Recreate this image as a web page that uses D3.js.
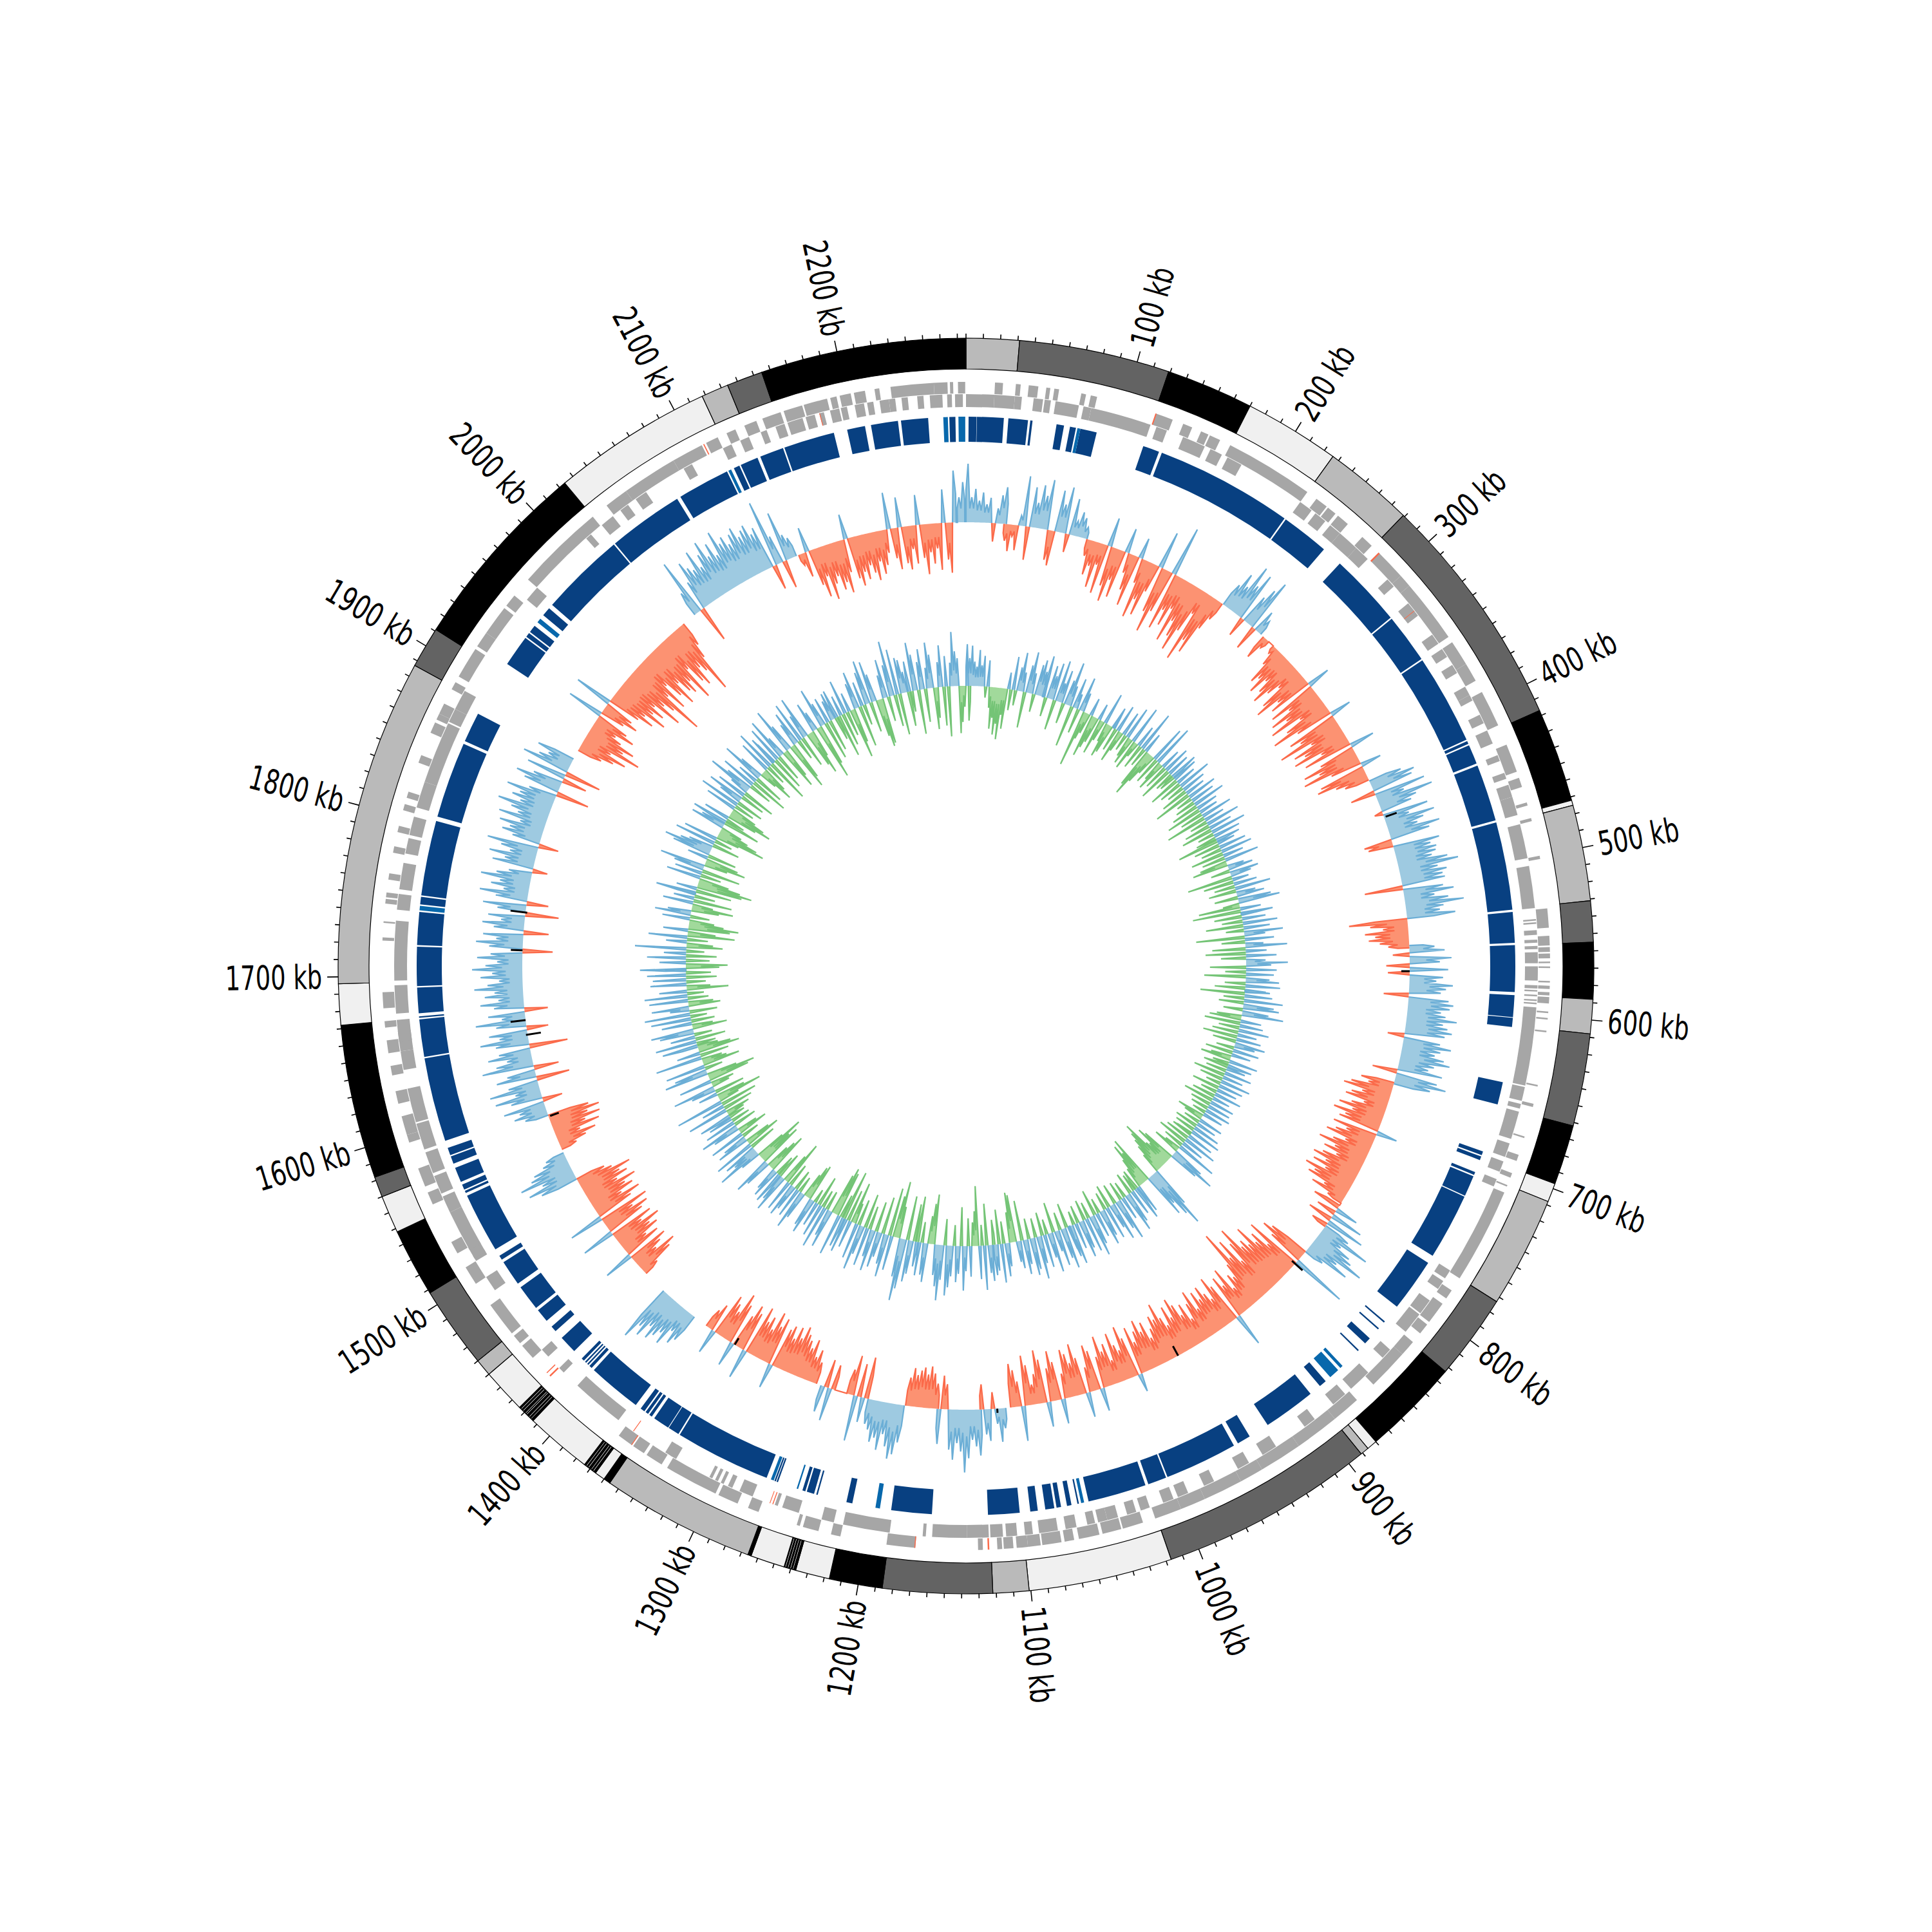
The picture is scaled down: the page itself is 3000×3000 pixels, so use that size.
<!DOCTYPE html>
<html><head><meta charset="utf-8"><script src="https://cdn.jsdelivr.net/npm/d3@7"></script>
<style>html,body{margin:0;background:#fff}</style></head><body><svg id="c" width="3000" height="3000"></svg>
<script>
const genomeKb=2275;
const bandStarts=[0,31,119,170,226,279,417,472,475,531,555,588,608,662,697,708,773,823,880,886,891,1017,1101,1122,1186,1217,1237,1244,1264,1266,1356,1360,1366,1374,1413,1424,1450,1460,1508,1548,1570,1582,1672,1696,1887,1911,2024,2118,2134,2155];
const bandTones="LMKWLMKWLMKLMKWLMKWLMWLMKWKWKLKWKWKWLMKWMKWLMKWLMK".split("");
const toneColor={L:"#bababa",M:"#636363",K:"#000000",W:"#f0f0f0"};
const stripeSlits=[1238.5,1240,1241.5,1243,1367.5,1369,1371,1372.5,1414.5,1416,1418,1419,1421,1422.5];
const conserved=[[1.7,7],[7.2,25],[28,41],[42.5,44],[60,65],[69,73],[76,87],[119,130],[132,224],[225,257],[271,320],[321,354],[355,415],[416,418],[419,432],[433.5,471.5],[473,531.5],[533,553.5],[555,586],[588,602.5],[603,609],[646,661],[693.5,696],[697,699.5],[708,710],[711,725],[725.7,770],[775.5,811],[823.5,824.5],[829.5,830.5],[838.5,843],[849,850],[879,884],[892,927],[941,950],[953,1001.5],[1002.5,1015],[1017,1056],[1062.5,1063.5],[1067.5,1070.5],[1074.5,1077.5],[1079,1085],[1090,1095],[1102,1123],[1160,1187],[1213,1217],[1236.5,1237.5],[1239,1244],[1245,1247],[1264,1265],[1265.5,1266.5],[1272,1336],[1337,1344.5],[1345,1356],[1358,1360],[1361,1363],[1364,1367],[1371,1407],[1409,1411],[1412,1413],[1414,1415],[1416,1418],[1425,1437],[1443,1447],[1452,1461],[1463,1480],[1483,1500],[1502,1505],[1510,1550],[1552,1553.5],[1554.5,1558],[1560,1570],[1573,1578],[1579,1584],[1589,1645],[1646,1671],[1672,1673],[1675,1692],[1693,1719],[1720,1742],[1747,1752],[1753,1803],[1806,1857],[1859,1879],[1917,1938],[1939,1942],[1943,1948],[1957,1963],[1966,2023],[2024,2074.5],[2077,2112],[2117,2121],[2122,2134],[2136,2152],[2153,2187],[2196,2208],[2212,2230],[2232,2250],[2264,2268]];
const conservedLight=[[2260,2263],[2270,2274.5],[74,76],[864,866],[868,875],[1059,1061],[1194.5,1197.5],[1250,1251],[1267,1269],[1743,1746],[1951,1954],[2113,2115]];
const genesOuter=[[18,23],[31,34],[39,45],[50,52.5],[55,58],[72,75],[78,82],[120,131],[138,144],[150,155],[156,163],[170,226],[233,241],[242,248],[250,258],[270,278],[284,304],[304,312],[312,352],[356,372],[372,384],[392,415],[428,446],[450,456],[466,468],[476,478],[500,502],[533,545],[550,556],[557,560],[561,564],[566,567],[569,570],[578,579],[581,583],[585,587],[588,592],[597,598],[601,602],[609,610],[643,644],[655,657],[676,677],[688,692],[700,703],[708,709],[713,773],[782,788],[792,806],[808,815],[822,832],[832,858],[872,890],[890,918],[918,945],[945,960],[960,985],[985,1001],[1001,1018],[1026,1039],[1040,1052],[1054,1067],[1070,1076],[1078,1090],[1091,1099],[1099,1106],[1108,1114],[1115,1118],[1127,1130],[1169,1187],[1216,1222],[1230,1240],[1242,1244],[1269,1276],[1283,1296],[1298,1332],[1336,1347],[1349,1357],[1358,1368],[1440,1450],[1452,1458],[1460,1482],[1498,1510],[1520,1528],[1554,1562],[1566,1578],[1595,1600],[1600,1612],[1620,1628],[1638,1644],[1652,1660],[1668,1672],[1680,1690],[1722,1724],[1733,1734],[1745,1748],[1749,1752],[1760,1764],[1777,1781],[1790,1794],[1804,1808],[1812,1816],[1835,1840],[1855,1862],[1864,1868],[1868,1875],[1885,1890],[1894,1914],[1916,1926],[1926,1945],[1947,1955],[1968,2024],[2035,2050],[2050,2085],[2085,2105],[2108,2116],[2122,2128],[2134,2142],[2146,2158],[2160,2172],[2173,2188],[2190,2194],[2196,2203],[2205,2212],[2218,2221],[2228,2255],[2255,2263.5],[2265,2267],[2270,2274.5]];
const genesInner=[[0,18],[18,31],[31,35.5],[43,49],[50,54],[57,72],[75,80],[80,119],[123,130],[141,156],[160,168],[172,182],[226,235],[238,246],[250,258],[258,272],[272,282],[300,306],[320,330],[345,352],[356,362],[368,374],[384,390],[390,394],[404,410],[415,424],[432,436],[444,448],[452,460],[460,472],[478,500],[505,532],[539,540],[541,542],[546,549],[552,554],[556,558],[560,567],[569,578],[581,583],[584,585],[587,588],[590,591],[592,593],[595,645],[646,655],[657,660],[662,680],[683,692],[695,702],[707,712],[772,778],[780,786],[795,805],[806,820],[835,842],[855,870],[875,885],[900,908],[930,940],[950,958],[975,982],[993,1000],[1003,1010],[1019,1025],[1028,1034],[1040,1047],[1047,1053],[1055,1060],[1067,1074],[1079,1091],[1095,1100],[1105,1112],[1114,1122],[1123,1137],[1137,1159],[1163,1165],[1186,1216],[1222,1230],[1245,1256],[1259,1261],[1276,1285],[1290,1293],[1296,1298],[1300,1302],[1304,1306],[1330,1334],[1333,1338],[1374,1408],[1420,1424],[1434,1440],[1488,1498],[1510,1514],[1512,1520],[1518,1545],[1545,1556],[1558,1570],[1572,1586],[1588,1605],[1606,1628],[1640,1652],[1652,1665],[1658,1672],[1676,1694],[1697,1735],[1742,1752],[1755,1772],[1778,1788],[1790,1802],[1808,1825],[1825,1865],[1866,1875],[1875,1888],[1958,1968],[2012,2016],[2025,2034],[2040,2046],[2052,2060],[2088,2094],[2116,2122],[2128,2134],[2142,2146],[2152,2158],[2160,2170],[2172,2178],[2181,2184],[2188,2194],[2195,2199],[2204,2210],[2212,2216],[2220,2226],[2226,2230],[2234,2238],[2244,2248],[2252,2260],[2263,2266],[2268,2273]];
const genesRed=[[1,119.6,120.4],[1,284,285],[0,326,326.4],[1,1123,1124],[1,1169,1169.6],[0,1262,1262.6],[0,1264,1264.5],[1,1424,1425],[1,1427,1427.6],[0,1362,1362.5],[1,1358,1358.5],[1,2106,2106.7],[0,2181,2181.5]];
const binKb=3;
const skewStarts=[0,31,100,224,266,277,413,530,552,665,775,795,822,1105,1125,1160,1188,1218,1246,1262,1376,1429,1525,1552,1582,1890,2037,2135,2268];
const skewRuns=[
[70,30,40,26,36,22,30,-22,18,34,44],
[-20,-32,-14,-30,12,60,-40,48,30,52,40,60,-36,-42,50,34,56,-22,44,18,30,24,14],
[-20,-42,-30,-55,-26,-60,35,-48,-66,-38,-58,30,-24,-44,-62,25,-30,-72,-48,-66,-34,45,-56,-80,-52,60,-70,-44,-62,-38,-78,-50,-68,-84,-56,-30,-90,-62,-76,-40,-24],
[30,48,34,65,42,60,-24,36,50,64,-30,28,18],
[-30,-12],
[-10,-24,-48,-40,-57,-36,-50,-62,-44,-30,-58,-70,-42,-54,28,-60,-38,-66,-48,-72,-34,-56,-77,-46,26,-62,-50,-80,-40,-66,-54,-70,-36,-60,30,-44,-68,-50,-72,-38,25,-56,-62,-40,-30],
[40,55,50,-30,62,34,68,46,38,-10,55,30,60,45,36,62,48,-34,-30,56,44,50,48,42,60,72,46,56,50,52,-46,48,60,36,52,70,45,40,58],
[-70,-45,-30,-52,-40,-48,-35,-25],
[30,42,-20,50,36,-28,46,-26,40,32,52,44,38,-30,48,54,50,40,46,60,44,50,56,48,-20,44,58,46,40,52,60,42,36,54,-30,50,62,44],
[-40,-30,-50,-58,-34,-46,-52,-28,-42,-56,-38,-60,-44,-50,25,-54,-36,-48,-58,-32,-46,-62,-40,-52,-34,-50,-60,-42,-56,-38,-62,-48,-54,-30,-44,-20],
[-34,28,-24,40,-30,48,-20],
[34,64,30,46,52,70,38,56,24],
[-50,-60,-44,68,-70,-40,-62,-52,-78,-56,-66,-60,-90,-72,-48,-82,-60,-98,-56,-40,-46,-30,-60,-40,-54,40,-48,-62,-36,-46,-58,-44,-56,-36,-62,-48,-30,-52,-40,-56,-66,-44,-60,-38,-50,-70,-52,-58,-44,-34,-56,-46,-62,-50,-38,-58,22,-48,-64,-36,-44,-60,-28,-50,-42,-62,-38,28,-48,-56,-30,30,-44,-62,-40,-52,-58,-30,30,-46,-60,-40,30,-52,-64,-36,-24,-48,-60,42,-30,-44,-52],
[24,40,18,-20,38,30,-30],
[55,44,36,58,75,50,40,60,48,-30,-40,42],
[-30,-42,-50,-40,-48,-44,-38,-46,-34],
[45,60,66,52,38,58,44,50,36,30],
[-50,30,-40,55,-48,-30],
[-30,40,-34,32],
[-26,-40,-30,-50,-38,-46,-52,-60,-44,-56,-40,-54,-48,30,-58,-46,-62,-38,-52,-44,-60,36,-48,-56,-40,30,-50,-62,-36,-44,-52,30,-34,-24],
[36,44,30,52,40,48,56,42,60,50,70],
[-20,-44,-54,-30,-40,-50,36,-46,-32,-52,-44,-60,-38,-54,40,-48,-58,-40,-62,42,-46,-60,-38,-56,-48,-64,-42,-58,-50,-66,-44,-36],
[46,60,40,66,50,44,30,24],
[-20,-34,-48,-30,-56,-40,-60,-46,-62,-50],
[28,40,32,50,-24,38,56,30,60,36,-40,48,34,-30,62,44,30,52,38,-46,40,58,34,46,-26,36,60,28,44,-28,36,52,30,46,34,58,42,28,50,36,60,44,30,54,38,-36,40,56,32,48,-30,36,50,28,44,-40,34,52,-26,38,58,30,46,36,60,42,28,-18,50,36,56,32,44,62,-24,34,48,40,54,30,58,36,46,64,38,50,42,60,34,-40,44,56,36,-30,48,-44,58,40,30,46],
[-30,-44,-58,-36,-72,-48,-60,-40,-30,-52,-40,44,-30,-46,-36,46,-40,-58,-44,-70,-50,-62,-46,-80,-54,-66,-100,-50,-72,-40,-60,-76,-48,-64,-70,-56,-84,-44,-66,-74,-52,-60,-90,-46,-30],
[30,70,-44,36,60,50,44,66,42,56,70,48,62,44,72,54,60,48,58,64,50,56,60,46,52,-30,80,34,-34,60,30,24],
[-14,-30,30,-44,-60,-36,-66,-48,-40,-58,-50,-64,-40,30,-50,-60,-44,-54,-38,-48,-58,-36,-52,-42,-28,44,-36,-50,36,-44,-52,-28,-46,36,-40,-60,-34,-48,-30,-56,40,-44,-60,62],
[30,48]];
const innerStarts=[0,100,200,300,400,500,600,700,800,900,1000,1100,1200,1300,1400,1500,1600,1700,1800,1900,2000,2100,2200];
const innerRuns=[
[60,40,58,35,28,52,30,44,-16,38,-30,-60,-44,-68,-52,-74,-38,-58,24,-30,48,-22,34,56,28,-52,40,60,30,-26,44,52,36,60],
[30,-28,48,34,54,-44,60,28,48,-30,36,64,30,-60,44,22,-36,50,28,-82,-40,-30,26,-62,-48,-38,24,-52,-30,46,-28,-50,-42,32],
[20,-34,40,-48,-30,36,-24,48,-30,-40,56,-44,-22,32,-36,60,-28,30,-58,-72,-48,-30,54,-40,62,-30,-44,30,-36,40,-50,34,-28,42],
[-24,38,-46,30,-34,50,-26,36,-40,30,-56,44,-24,36,-30,48,-40,32,-52,28,-34,46,-60,30,-26,50,-38,34,-46,52,-24,40,-30,36],
[-60,26,-38,40,-30,46,-48,30,-34,50,-40,-52,24,36,-28,42,30,-66,24,-44,34,-30,52,-40,28,40,-34,48,60,-24,-60,30,-70,46],
[28,-40,34,-30,50,-54,38,-26,56,30,-70,42,-34,26,60,-48,30,-58,44,-36,28,60,36,-52,44,-30,40,-60,34,48,-30,50,-44,30],
[36,-64,40,-30,56,-36,44,52,-28,38,60,-36,-46,30,-52,34,-30,44,-38,28,-50,36,-34,44,30,-26,38,-40,28,-30,-44,42,-24,36],
[-36,28,-30,40,-46,30,-34,44,-22,36,-40,30,-24,40,-34,26,-44,36,-30,34,-26,38,-20,30,-40,-28,36,-24,30,-34,40,-30,46,-24],
[-30,40,-36,50,-44,34,-30,60,-24,-40,48,70,44,-50,-60,-36,-40,-76,-64,-54,-44,-30,60,93,73,50,66,-72,-52,-66,-44,-30,42,-30],
[50,-26,38,-32,46,58,-24,34,-28,62,44,-30,56,36,-34,48,-26,40,52,-22,36,-38,44,60,-24,50,-30,42,54,-26,38,-20,58,46],
[34,-36,60,44,-26,52,30,-44,58,36,-22,48,-34,40,62,-28,46,54,-30,36,50,-58,40,30,-68,-72,-44,34,48,-32,56,-50,38,44],
[-36,52,40,-60,64,-30,48,-86,-50,-34,44,-40,36,64,-56,40,52,-30,44,60,72,-38,50,80,60,44,-72,-58,-40,56,46,-30,48,-66],
[36,-54,48,60,-64,72,90,56,-46,-82,-60,50,-70,62,44,-54,36,52,-44,60,40,-34,56,-50,42,66,-38,52,-30,-60,40,-46,50,-72],
[44,-34,60,-66,-72,-60,56,40,-28,62,-26,48,-44,36,-20,52,42,-54,-50,-36,40,58,-24,44,-30,38,50,-34,46,-66,-44,56,40,-38],
[48,-30,44,34,-60,-48,-36,40,56,-64,-52,-74,-44,30,66,38,50,-40,60,-52,-38,48,36,-26,52,-44,-30,40,58,-34,46,-28,36,-24],
[48,-26,-36,60,-44,34,-54,70,-30,-66,-42,28,-44,36,62,-26,-34,48,-60,-70,-44,64,48,-26,58,-54,-36,-30,68,-42,34,-60,-48,-30],
[52,-28,60,-44,36,-26,50,62,-50,-30,44,-34,58,-24,66,-40,28,54,-46,-36,56,-30,62,-24,40,-60,-34,52,-28,48,-44,56,-36,30],
[66,-48,-60,38,-34,56,-44,32,-26,74,-52,-38,30,-30,56,-68,-40,36,-60,-72,-50,-36,40,-28,52,34,-40,-60,-30,44,-56,30,-30,36],
[58,-52,30,-66,-80,-62,-44,50,-30,40,-56,44,66,-34,-60,-48,30,-42,56,70,48,36,-40,60,-26,50,-34,-72,-60,-44,-32,50,36,-54],
[52,-28,38,-44,-66,-54,-38,46,-30,60,-40,34,54,-36,44,-48,28,66,40,-34,52,-56,30,-44,62,36,-26,-52,-38,48,-30,60,-64,44],
[34,-50,54,-40,62,30,-60,-44,68,40,-70,-56,34,50,-30,60,-46,36,62,-52,-66,-40,44,28,-80,-60,58,34,-56,38,-46,30,40,-34],
[42,-62,30,-48,50,-36,28,-72,-50,38,54,-60,36,-30,48,64,-44,60,40,-54,-70,-66,34,56,-36,46,80,-46,66,-60,52,48,30,-50],
[44,-30,70,52,-64,40,58,-48,30,66,48,-60,-44,36,60,-56,44,-72,34,78,50,40,-68,-52,-30,60,-50]];
const skewMarks=[[445,2,16],[573,-10,0],[835,-5,12],[957,-13,0],[1112,0,5],[1336,-9,0],[1581,-13,-2],[1650,-16,2],[1662,0,18],[1719,0,14],[1750,-2,18]];

const svg=d3.select("#c");
const g=svg.append("g").attr("transform","translate(1500,1500)");
const ang=d3.scaleLinear().domain([0,genomeKb]).range([0,2*Math.PI]);
const arc=d3.arc();
const seg=(s,e,r0,r1)=>arc({startAngle:ang(s),endAngle:ang(e),innerRadius:r0,outerRadius:r1});

bandStarts.forEach((s,i)=>{
  const e=i+1<bandStarts.length?bandStarts[i+1]:genomeKb;
  g.append("path").attr("d",seg(s,e,927,975)).attr("fill",toneColor[bandTones[i]]).attr("stroke","#000").attr("stroke-width",1.2);
});
stripeSlits.forEach(k=>g.append("path").attr("d",seg(k,k+0.25,928,974)).attr("fill","#fff"));
const ticks=d3.range(0,genomeKb,10);
g.selectAll("line.t").data(ticks).join("line").attr("class","t")
 .attr("x1",d=>975*Math.sin(ang(d))).attr("y1",d=>-975*Math.cos(ang(d)))
 .attr("x2",d=>(975+(d%100===0&&d>0?17:7))*Math.sin(ang(d))).attr("y2",d=>-(975+(d%100===0&&d>0?17:7))*Math.cos(ang(d)))
 .attr("stroke","#000").attr("stroke-width",1.6);
g.selectAll("text.l").data(d3.range(100,genomeKb,100)).join("text").attr("class","l")
 .attr("font-family","DejaVu Sans").attr("font-size",52).attr("fill","#000")
 .attr("dominant-baseline","central")
 .attr("text-anchor",d=>d<genomeKb/2?"start":"end")
 .attr("transform",d=>{const deg=ang(d)*180/Math.PI;const x=1000*Math.sin(ang(d)),y=-1000*Math.cos(ang(d));
   return `translate(${x},${y}) rotate(${deg<180?deg-90:deg+90}) scale(0.71,1)`;})
 .text(d=>d+" kb");

const gene=(list,r0,r1,c)=>list.forEach(([s,e])=>g.append("path").attr("d",seg(s,e,r0,r1)).attr("fill",c));
gene(genesOuter,889,907,"#a6a6a6");
gene(genesInner,868,888,"#a6a6a6");
genesRed.forEach(([o,s,e])=>g.append("path").attr("d",o?seg(s,e,889,907):seg(s,e,868,888)).attr("fill","#fb6a4a"));
gene(conserved,814,853,"#084081");
gene(conservedLight,814,853,"#0868ac");

function points(starts,runs,k){
  const out=[];
  runs.forEach((run,j)=>{
    const s=starts[j];
    out.push({kb:s,v:0});
    out.push({kb:s,v:run[0]*k});
    run.forEach((v,i)=>{
      out.push({kb:s+i*binKb+binKb/2,v});
      const n=run[i+1];
      if(n!==undefined){
        const mid=(v>0)===(n>0)?Math.sign(v)*Math.min(Math.abs(v),Math.abs(n))*k:0;
        out.push({kb:s+(i+1)*binKb,v:mid});
      }
    });
    const last=s+run.length*binKb;
    out.push({kb:last,v:run[run.length-1]*k});
    out.push({kb:last,v:0});
  });
  return out;
}
function track(pts,base,span,posFill,posLine,negFill,negLine){
  const r=d3.scaleLinear().domain([-100,100]).range([base-span,base+span]);
  [[1,posFill,posLine],[-1,negFill,negLine]].forEach(([sgn,fill,line])=>{
    const val=d=>sgn>0?Math.max(0,d.v):Math.min(0,d.v);
    g.append("path").attr("d",d3.areaRadial().angle(d=>ang(d.kb)).innerRadius(base).outerRadius(d=>r(val(d)))(pts)).attr("fill",fill);
    const on=(d,i)=>val(d)!==0||(pts[i-1]&&val(pts[i-1])!==0)||(pts[i+1]&&val(pts[i+1])!==0);
    g.append("path").attr("d",d3.lineRadial().angle(d=>ang(d.kb)).radius(d=>r(val(d))).defined(on)(pts)).attr("fill","none").attr("stroke",line).attr("stroke-width",2.2);
  });
  return r;
}
const rSkew=track(points(skewStarts,skewRuns,0.55),689,130,"#9ecae1","#6baed6","#fc9272","#fb6a4a");
track(points(innerStarts,innerRuns,0.45),435,108,"#9ecae1","#6baed6","#a1d99b","#74c476");
skewMarks.forEach(([kb,a,b])=>g.append("line")
 .attr("x1",rSkew(a)*Math.sin(ang(kb))).attr("y1",-rSkew(a)*Math.cos(ang(kb)))
 .attr("x2",rSkew(b)*Math.sin(ang(kb))).attr("y2",-rSkew(b)*Math.cos(ang(kb)))
 .attr("stroke","#000").attr("stroke-width",3));
</script></body></html>
